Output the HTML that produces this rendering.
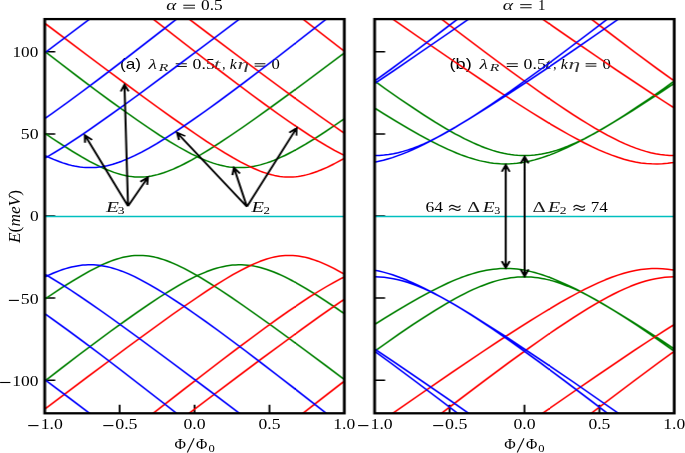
<!DOCTYPE html>
<html><head><meta charset="utf-8"><style>
html,body{margin:0;padding:0;background:#fff;width:685px;height:453px;overflow:hidden}
svg{display:block} .tx{will-change:transform}
text{fill:#000} .ser{font-family:"Liberation Serif",serif}
.sans{font-family:"Liberation Sans",sans-serif}
</style></head><body>
<svg width="685" height="453" viewBox="0 0 685 453">
<defs>
<clipPath id="clipL"><rect x="36.34" y="19.10" width="243.58" height="394.20"/></clipPath>
<clipPath id="clipR"><rect x="304.55" y="19.10" width="243.58" height="394.20"/></clipPath>
</defs>
<g class="tx"><text class="ser" transform="translate(12.50,56.90) scale(1.200,1)" font-size="14.3">100</text>
<text class="ser" transform="translate(20.87,139.40) scale(1.246,1)" font-size="14.3">50</text>
<text class="ser" transform="translate(29.89,221.20) scale(1.217,1)" font-size="14.3">0</text>
<text class="ser" transform="translate(20.87,303.90) scale(1.246,1)" font-size="14.3">50</text>
<text class="ser" transform="translate(12.37,386.10) scale(1.220,1)" font-size="14.3">100</text>
<text class="ser" transform="translate(40.65,429.30) scale(1.238,1)" font-size="14.3">1.0</text>
<text class="ser" transform="translate(115.17,429.30) scale(1.254,1)" font-size="14.3">0.5</text>
<text class="ser" transform="translate(183.48,429.30) scale(1.242,1)" font-size="14.3">0.0</text>
<text class="ser" transform="translate(258.49,429.30) scale(1.230,1)" font-size="14.3">0.5</text>
<text class="ser" transform="translate(333.37,429.30) scale(1.225,1)" font-size="14.3">1.0</text>
<text class="ser" transform="translate(174.45,448.60) scale(1.095,1)" font-size="14.3">Φ</text>
<text class="ser" transform="translate(196.06,448.60) scale(1.084,1)" font-size="14.3">Φ</text>
<text class="ser" transform="translate(208.39,451.50) scale(1.224,1)" font-size="10.3">0</text>
<text class="ser" transform="translate(370.55,429.30) scale(1.238,1)" font-size="14.3">1.0</text>
<text class="ser" transform="translate(445.07,429.30) scale(1.254,1)" font-size="14.3">0.5</text>
<text class="ser" transform="translate(513.38,429.30) scale(1.242,1)" font-size="14.3">0.0</text>
<text class="ser" transform="translate(588.39,429.30) scale(1.230,1)" font-size="14.3">0.5</text>
<text class="ser" transform="translate(663.27,429.30) scale(1.225,1)" font-size="14.3">1.0</text>
<text class="ser" transform="translate(504.35,448.60) scale(1.095,1)" font-size="14.3">Φ</text>
<text class="ser" transform="translate(525.96,448.60) scale(1.084,1)" font-size="14.3">Φ</text>
<text class="ser" transform="translate(538.29,451.50) scale(1.224,1)" font-size="10.3">0</text>
<text class="ser" transform="translate(166.23,10.20) scale(1.338,1)" font-size="14.3" font-style="italic" style="fill:#0b0b0b">α</text>
<text class="ser" transform="translate(201.09,10.20) scale(1.212,1)" font-size="14.3">0.5</text>
<text class="ser" transform="translate(502.71,10.20) scale(1.379,1)" font-size="14.3" font-style="italic" style="fill:#121212">α</text>
<text class="ser" transform="translate(537.90,10.00) scale(1.040,1)" font-size="14.3">1</text>
<text class="sans" transform="translate(119.97,68.60) scale(1.233,1)" font-size="14.0">(a)</text>
<text class="ser" transform="translate(148.54,68.60) scale(1.367,1)" font-size="14.3" font-style="italic" style="fill:#101010">λ</text>
<text class="ser" transform="translate(158.80,70.60) scale(1.431,1)" font-size="11.0" font-style="italic" style="fill:#1b1b1b">R</text>
<text class="ser" transform="translate(192.58,68.60) scale(1.242,1)" font-size="14.3">0.5</text>
<text class="ser" transform="translate(213.64,68.60) scale(1.686,1)" font-size="14.3" font-style="italic" style="fill:#3d3d3d">t</text>
<text class="ser" transform="translate(222.36,68.60) scale(0.889,1)" font-size="14.3">,</text>
<text class="ser" transform="translate(229.84,68.60) scale(1.117,1)" font-size="14.3" font-style="italic">k</text>
<text class="ser" transform="translate(237.48,68.60) scale(1.650,1)" font-size="14.3" font-style="italic" style="fill:#393939">η</text>
<text class="ser" transform="translate(271.62,68.60) scale(1.167,1)" font-size="14.3">0</text>
<text class="sans" transform="translate(449.50,68.60) scale(1.298,1)" font-size="14.0">(b)</text>
<text class="ser" transform="translate(479.54,68.60) scale(1.367,1)" font-size="14.3" font-style="italic" style="fill:#101010">λ</text>
<text class="ser" transform="translate(489.80,70.60) scale(1.431,1)" font-size="11.0" font-style="italic" style="fill:#1b1b1b">R</text>
<text class="ser" transform="translate(523.58,68.60) scale(1.242,1)" font-size="14.3">0.5</text>
<text class="ser" transform="translate(544.64,68.60) scale(1.686,1)" font-size="14.3" font-style="italic" style="fill:#3d3d3d">t</text>
<text class="ser" transform="translate(553.36,68.60) scale(0.889,1)" font-size="14.3">,</text>
<text class="ser" transform="translate(560.84,68.60) scale(1.117,1)" font-size="14.3" font-style="italic">k</text>
<text class="ser" transform="translate(568.47,68.60) scale(1.650,1)" font-size="14.3" font-style="italic" style="fill:#393939">η</text>
<text class="ser" transform="translate(602.62,68.60) scale(1.167,1)" font-size="14.3">0</text>
<text class="ser" transform="translate(106.05,211.80) scale(1.384,1)" font-size="15.3" font-style="italic" style="fill:#131313">E</text>
<text class="ser" transform="translate(117.64,213.90) scale(1.318,1)" font-size="10.3">3</text>
<text class="ser" transform="translate(251.43,211.90) scale(1.330,1)" font-size="15.3" font-style="italic" style="fill:#0a0a0a">E</text>
<text class="ser" transform="translate(263.38,213.90) scale(1.250,1)" font-size="10.3">2</text>
<text class="ser" transform="translate(425.49,212.30) scale(1.230,1)" font-size="14.3">64</text>
<text class="ser" transform="translate(467.20,211.90) scale(1.394,1)" font-size="14.3" style="fill:#151515">Δ</text>
<text class="ser" transform="translate(482.64,211.90) scale(1.360,1)" font-size="14.3" font-style="italic" style="fill:#0f0f0f">E</text>
<text class="ser" transform="translate(494.21,213.90) scale(1.176,1)" font-size="10.3">3</text>
<text class="ser" transform="translate(532.48,211.90) scale(1.442,1)" font-size="14.3" style="fill:#1d1d1d">Δ</text>
<text class="ser" transform="translate(548.05,211.90) scale(1.394,1)" font-size="14.3" font-style="italic" style="fill:#151515">E</text>
<text class="ser" transform="translate(559.84,213.90) scale(1.325,1)" font-size="10.3" style="fill:#090909">2</text>
<text class="ser" transform="translate(590.71,212.30) scale(1.192,1)" font-size="14.3">74</text>
<rect x="8.90" y="299.85" width="10.00" height="1.1" fill="#000"/>
<rect x="0.10" y="381.95" width="10.30" height="1.1" fill="#000"/>
<rect x="28.20" y="425.05" width="10.30" height="1.1" fill="#000"/>
<rect x="103.30" y="425.05" width="10.10" height="1.1" fill="#000"/>
<rect x="358.10" y="425.05" width="10.30" height="1.1" fill="#000"/>
<rect x="433.20" y="425.05" width="10.10" height="1.1" fill="#000"/>
<rect x="183.30" y="4.75" width="11.70" height="1.0" fill="#111"/>
<rect x="183.30" y="7.55" width="11.70" height="1.0" fill="#111"/>
<rect x="520.20" y="4.15" width="11.40" height="1.0" fill="#111"/>
<rect x="520.20" y="7.25" width="11.40" height="1.0" fill="#111"/>
<rect x="175.70" y="63.25" width="11.10" height="1.0" fill="#111"/>
<rect x="175.70" y="65.95" width="11.10" height="1.0" fill="#111"/>
<rect x="254.60" y="63.25" width="10.80" height="1.0" fill="#111"/>
<rect x="254.60" y="65.65" width="10.80" height="1.0" fill="#111"/>
<rect x="506.70" y="63.25" width="11.10" height="1.0" fill="#111"/>
<rect x="506.70" y="65.95" width="11.10" height="1.0" fill="#111"/>
<rect x="585.60" y="63.25" width="10.80" height="1.0" fill="#111"/>
<rect x="585.60" y="65.65" width="10.80" height="1.0" fill="#111"/>
<path d="M194.10 438.3L187.30 452.6" stroke="#111" stroke-width="1.15" fill="none"/>
<path d="M524.00 438.3L517.20 452.6" stroke="#111" stroke-width="1.15" fill="none"/>
<path d="M449.20 207.20C450.20 205.00 452.60 205.00 454.80 206.30S459.40 207.60 460.40 205.40" stroke="#111" stroke-width="1.2" fill="none"/>
<path d="M449.20 210.50C450.20 208.30 452.60 208.30 454.80 209.60S459.40 210.90 460.40 208.70" stroke="#111" stroke-width="1.2" fill="none"/>
<path d="M573.60 207.20C574.60 205.00 577.00 205.00 579.20 206.30S583.80 207.60 584.80 205.40" stroke="#111" stroke-width="1.2" fill="none"/>
<path d="M573.60 210.50C574.60 208.30 577.00 208.30 579.20 209.60S583.80 210.90 584.80 208.70" stroke="#111" stroke-width="1.2" fill="none"/>
<text class="ser" transform="translate(20.2,243.0) rotate(-90) scale(1,1.23)" font-size="14.3" textLength="53" lengthAdjust="spacingAndGlyphs"><tspan font-style="italic">E</tspan>(<tspan font-style="italic">meV</tspan>)</text></g>
<g transform="scale(1.23,1)">
<path d="M36.34 380.25h8.54M36.34 298.12h8.54M36.34 216.00h8.54M36.34 133.88h8.54M36.34 51.75h8.54M97.24 413.30v-8.6M158.13 413.30v-8.6M219.02 413.30v-8.6" stroke="#000" stroke-width="1.5" fill="none"/>
<g clip-path="url(#clipL)" fill="none" stroke-width="1.5" stroke-linejoin="round">
<path stroke="#008000" d="M32.69 47.8 49.25 63.5 64.23 77.6 77.87 90.2 90.17 101.4 101.38 111.3 111.73 120.3 121.23 128.3 129.88 135.4 137.91 141.6 145.34 147.0 152.16 151.7 155.45 153.8 158.62 155.7 161.66 157.5 164.71 159.1 167.63 160.6 170.43 161.9 173.23 163.1 175.91 164.1 178.59 165.0 181.15 165.7 183.71 166.4 186.26 166.9 188.82 167.3 191.38 167.5 193.94 167.6 196.37 167.6 198.81 167.5 201.37 167.2 203.92 166.8 206.48 166.3 209.04 165.6 211.60 164.9 214.27 163.9 216.95 162.9 219.76 161.7 222.56 160.4 225.48 158.9 228.52 157.2 231.57 155.5 234.74 153.5 238.02 151.4 241.43 149.1 248.50 144.1 256.17 138.3 264.57 131.6 273.71 124.0 283.57 115.6 M32.69 384.6 49.25 368.9 64.23 354.8 77.87 342.2 90.17 331.0 101.38 321.1 111.73 312.1 121.23 304.1 129.88 297.0 137.91 290.8 145.34 285.4 152.16 280.7 155.45 278.6 158.62 276.7 161.66 274.9 164.71 273.3 167.63 271.8 170.43 270.5 173.23 269.3 175.91 268.3 178.59 267.4 181.15 266.7 183.71 266.0 186.26 265.5 188.82 265.1 191.38 264.9 193.94 264.8 196.37 264.8 198.81 264.9 201.37 265.2 203.92 265.6 206.48 266.1 209.04 266.8 211.60 267.5 214.27 268.5 216.95 269.5 219.76 270.7 222.56 272.0 225.48 273.5 228.52 275.2 231.57 276.9 234.74 278.9 238.02 281.0 241.43 283.3 248.50 288.3 256.17 294.1 264.57 300.8 273.71 308.4 283.57 316.8 M32.69 130.1 42.31 138.2 50.96 145.2 58.87 151.3 66.06 156.6 72.76 161.3 78.85 165.1 81.77 166.9 84.57 168.5 87.37 169.9 90.05 171.2 92.61 172.4 95.17 173.4 97.60 174.3 100.04 175.1 102.47 175.7 104.79 176.2 107.10 176.6 109.41 176.9 111.73 177.0 113.92 177.0 116.23 176.9 118.55 176.7 120.86 176.4 123.18 175.9 125.61 175.3 128.05 174.6 130.48 173.7 133.04 172.8 135.60 171.6 138.16 170.4 140.84 169.1 143.64 167.5 146.56 165.8 149.60 164.0 155.94 159.8 162.76 155.0 170.31 149.3 178.47 142.9 187.48 135.5 197.35 127.2 208.31 117.7 220.36 107.1 233.76 95.1 248.62 81.7 265.18 66.5 283.57 49.6 M32.69 302.3 42.31 294.2 50.96 287.2 58.87 281.1 66.06 275.8 72.76 271.1 78.85 267.3 81.77 265.5 84.57 263.9 87.37 262.5 90.05 261.2 92.61 260.0 95.17 259.0 97.60 258.1 100.04 257.3 102.47 256.7 104.79 256.2 107.10 255.8 109.41 255.5 111.73 255.4 113.92 255.4 116.23 255.5 118.55 255.7 120.86 256.0 123.18 256.5 125.61 257.1 128.05 257.8 130.48 258.7 133.04 259.6 135.60 260.8 138.16 262.0 140.84 263.3 143.64 264.9 146.56 266.6 149.60 268.4 155.94 272.6 162.76 277.4 170.31 283.1 178.47 289.5 187.48 296.9 197.35 305.2 208.31 314.7 220.36 325.3 233.76 337.3 248.62 350.7 265.18 365.9 283.57 382.8"/>
<path stroke="#ff0000" d="M114.29 9.3 149.97 43.5 165.44 58.2 179.69 71.6 192.72 83.8 204.65 94.7 215.61 104.6 225.60 113.5 234.86 121.5 243.50 128.7 251.42 135.2 258.73 140.9 265.55 145.9 271.88 150.3 277.85 154.2 283.57 157.5 M114.29 423.1 149.97 388.9 165.44 374.2 179.69 360.8 192.72 348.6 204.65 337.7 215.61 327.8 225.60 318.9 234.86 310.9 243.50 303.7 251.42 297.2 258.73 291.5 265.55 286.5 271.88 282.1 277.85 278.2 283.57 274.9 M236.07 9.3 261.29 33.5 283.57 54.8 M236.07 423.1 261.29 398.9 283.57 377.6 M32.69 19.8 71.17 55.5 87.74 70.7 102.72 84.4 116.36 96.7 128.66 107.7 139.86 117.6 150.09 126.4 159.35 134.2 167.87 141.3 175.67 147.5 182.73 152.9 189.31 157.7 195.40 161.8 201.12 165.4 206.48 168.5 211.47 171.1 213.91 172.2 216.22 173.1 218.54 174.0 220.85 174.8 223.04 175.4 225.24 175.9 227.43 176.4 229.62 176.7 231.81 176.9 233.88 177.0 235.95 177.0 238.15 176.9 240.22 176.7 242.41 176.4 244.60 176.0 246.79 175.5 248.98 174.9 251.30 174.1 253.61 173.2 255.93 172.3 258.36 171.2 260.80 170.0 265.91 167.3 271.39 164.0 277.24 160.1 283.57 155.7 M32.69 412.6 71.17 376.9 87.74 361.7 102.72 348.0 116.36 335.7 128.66 324.7 139.86 314.8 150.09 306.0 159.35 298.2 167.87 291.1 175.67 284.9 182.73 279.5 189.31 274.7 195.40 270.6 201.12 267.0 206.48 263.9 211.47 261.3 213.91 260.2 216.22 259.3 218.54 258.4 220.85 257.6 223.04 257.0 225.24 256.5 227.43 256.0 229.62 255.7 231.81 255.5 233.88 255.4 235.95 255.4 238.15 255.5 240.22 255.7 242.41 256.0 244.60 256.4 246.79 256.9 248.98 257.5 251.30 258.3 253.61 259.2 255.93 260.1 258.36 261.2 260.80 262.4 265.91 265.1 271.39 268.4 277.24 272.3 283.57 276.7 M143.27 9.3 169.09 33.4 191.87 54.5 211.96 73.0 229.86 89.2 245.70 103.5 259.82 116.0 272.37 126.8 283.57 136.3 M143.27 423.1 169.09 399.0 191.87 377.9 211.96 359.4 229.86 343.2 245.70 328.9 259.82 316.4 272.37 305.6 283.57 296.1"/>
<path stroke="#0000ff" d="M32.69 121.9 43.16 112.8 54.73 102.5 67.40 91.0 81.40 78.1 96.87 63.6 113.92 47.4 132.80 29.4 153.62 9.3 M32.69 310.5 43.16 319.6 54.73 329.9 67.40 341.4 81.40 354.3 96.87 368.8 113.92 385.0 132.80 403.0 153.62 423.1 M32.69 153.2 38.29 156.6 43.53 159.4 48.52 161.8 50.96 162.9 53.39 163.8 55.83 164.7 58.14 165.4 60.46 166.0 62.65 166.5 64.96 167.0 67.15 167.3 69.35 167.5 71.54 167.6 73.73 167.6 75.92 167.6 78.11 167.4 80.43 167.1 82.62 166.7 84.94 166.2 87.13 165.7 89.44 165.0 91.76 164.2 94.19 163.3 96.63 162.3 99.06 161.2 104.06 158.7 109.41 155.7 115.14 152.1 121.11 148.1 127.44 143.6 134.26 138.4 141.57 132.6 149.36 126.2 157.89 118.9 167.02 111.0 177.01 102.1 187.72 92.4 199.42 81.6 212.08 69.8 225.97 56.7 241.07 42.3 275.41 9.3 M32.69 279.2 38.29 275.8 43.53 273.0 48.52 270.6 50.96 269.5 53.39 268.6 55.83 267.7 58.14 267.0 60.46 266.4 62.65 265.9 64.96 265.4 67.15 265.1 69.35 264.9 71.54 264.8 73.73 264.8 75.92 264.8 78.11 265.0 80.43 265.3 82.62 265.7 84.94 266.2 87.13 266.7 89.44 267.4 91.76 268.2 94.19 269.1 96.63 270.1 99.06 271.2 104.06 273.7 109.41 276.7 115.14 280.3 121.11 284.3 127.44 288.8 134.26 294.0 141.57 299.8 149.36 306.2 157.89 313.5 167.02 321.4 177.01 330.3 187.72 340.0 199.42 350.8 212.08 362.6 225.97 375.7 241.07 390.1 275.41 423.1 M32.69 56.3 56.44 34.3 83.35 9.3 M32.69 376.1 56.44 398.1 83.35 423.1 M32.69 160.8 38.17 157.0 44.14 152.6 50.47 147.8 57.29 142.4 64.72 136.3 72.76 129.6 81.40 122.1 90.90 113.9 101.25 104.7 112.46 94.7 138.03 71.4 168.60 43.3 205.14 9.3 M32.69 271.6 38.17 275.4 44.14 279.8 50.47 284.6 57.29 290.0 64.72 296.1 72.76 302.8 81.40 310.3 90.90 318.5 101.25 327.7 112.46 337.7 138.03 361.0 168.60 389.1 205.14 423.1"/>
<path d="M36.34 216.40H279.92" stroke="#00bfbf" stroke-width="1.5"/>
</g>
<rect x="36.34" y="19.10" width="243.58" height="394.20" fill="none" stroke="#000" stroke-width="2.3"/>
<path d="M304.55 380.25h8.54M304.55 298.12h8.54M304.55 216.00h8.54M304.55 133.88h8.54M304.55 51.75h8.54M365.45 413.30v-8.6M426.34 413.30v-8.6M487.24 413.30v-8.6" stroke="#000" stroke-width="1.5" fill="none"/>
<g clip-path="url(#clipR)" fill="none" stroke-width="1.5" stroke-linejoin="round">
<path stroke="#008000" d="M300.90 77.9 313.20 88.7 324.53 98.5 335.00 107.2 344.74 115.1 353.76 122.1 362.16 128.3 369.95 133.8 373.73 136.2 377.38 138.6 380.91 140.7 384.32 142.7 387.73 144.5 391.02 146.2 394.19 147.7 397.36 149.1 400.40 150.4 403.45 151.5 406.49 152.5 409.41 153.3 412.34 154.0 415.14 154.6 417.94 155.0 420.74 155.3 423.54 155.5 426.34 155.6 429.14 155.5 431.94 155.3 434.74 155.0 437.55 154.6 440.35 154.0 443.27 153.3 446.19 152.5 449.24 151.5 452.28 150.4 455.33 149.1 458.49 147.7 461.66 146.2 464.95 144.5 468.36 142.7 471.77 140.7 475.30 138.6 478.95 136.2 482.73 133.8 490.52 128.3 498.93 122.1 507.94 115.1 517.68 107.2 528.16 98.5 539.48 88.7 551.78 77.9 M300.90 354.5 313.20 343.7 324.53 333.9 335.00 325.2 344.74 317.3 353.76 310.3 362.16 304.1 369.95 298.6 373.73 296.2 377.38 293.8 380.91 291.7 384.32 289.7 387.73 287.9 391.02 286.2 394.19 284.7 397.36 283.3 400.40 282.0 403.45 280.9 406.49 279.9 409.41 279.1 412.34 278.4 415.14 277.8 417.94 277.4 420.74 277.1 423.54 276.9 426.34 276.8 429.14 276.9 431.94 277.1 434.74 277.4 437.55 277.8 440.35 278.4 443.27 279.1 446.19 279.9 449.24 280.9 452.28 282.0 455.33 283.3 458.49 284.7 461.66 286.2 464.95 287.9 468.36 289.7 471.77 291.7 475.30 293.8 478.95 296.2 482.73 298.6 490.52 304.1 498.93 310.3 507.94 317.3 517.68 325.2 528.16 333.9 539.48 343.7 551.78 354.5 M300.90 105.1 312.10 113.8 322.46 121.6 332.08 128.6 340.97 134.8 349.25 140.3 356.92 145.1 364.23 149.4 367.64 151.2 371.05 153.0 374.34 154.6 377.50 156.0 380.67 157.4 383.72 158.5 386.76 159.6 389.68 160.6 392.61 161.4 395.41 162.1 398.21 162.7 401.01 163.2 403.81 163.5 406.61 163.8 409.41 163.9 412.09 163.9 414.77 163.8 417.57 163.6 420.37 163.3 423.17 162.8 425.98 162.3 428.78 161.6 431.70 160.8 434.62 159.9 437.67 158.8 440.71 157.6 443.88 156.3 447.05 154.9 450.33 153.3 453.62 151.6 460.56 147.8 467.99 143.4 475.91 138.3 484.31 132.6 493.45 126.1 503.31 118.8 513.91 110.8 525.48 101.7 538.02 91.7 551.78 80.4 M300.90 327.3 312.10 318.6 322.46 310.8 332.08 303.8 340.97 297.6 349.25 292.1 356.92 287.3 364.23 283.0 367.64 281.2 371.05 279.4 374.34 277.8 377.50 276.4 380.67 275.0 383.72 273.9 386.76 272.8 389.68 271.8 392.61 271.0 395.41 270.3 398.21 269.7 401.01 269.2 403.81 268.9 406.61 268.6 409.41 268.5 412.09 268.5 414.77 268.6 417.57 268.8 420.37 269.1 423.17 269.6 425.98 270.1 428.78 270.8 431.70 271.6 434.62 272.5 437.67 273.6 440.71 274.8 443.88 276.1 447.05 277.5 450.33 279.1 453.62 280.8 460.56 284.6 467.99 289.0 475.91 294.1 484.31 299.8 493.45 306.3 503.31 313.6 513.91 321.6 525.48 330.7 538.02 340.7 551.78 352.0"/>
<path stroke="#ff0000" d="M348.52 9.3 372.63 32.0 394.19 52.0 413.31 69.5 430.48 84.8 438.40 91.7 445.83 98.1 452.89 104.0 459.71 109.6 466.17 114.8 472.26 119.6 478.10 124.0 483.58 128.1 488.94 131.8 494.06 135.3 498.93 138.4 503.68 141.3 508.18 143.8 512.57 146.1 516.83 148.1 520.97 149.9 524.99 151.4 529.01 152.7 532.91 153.7 536.68 154.5 540.46 155.1 544.23 155.5 548.01 155.6 551.78 155.5 M348.52 423.1 372.63 400.4 394.19 380.4 413.31 362.9 430.48 347.6 438.40 340.7 445.83 334.3 452.89 328.4 459.71 322.8 466.17 317.6 472.26 312.8 478.10 308.4 483.58 304.3 488.94 300.6 494.06 297.1 498.93 294.0 503.68 291.1 508.18 288.6 512.57 286.3 516.83 284.3 520.97 282.5 524.99 281.0 529.01 279.7 532.91 278.7 536.68 277.9 540.46 277.3 544.23 276.9 548.01 276.8 551.78 276.9 M470.31 9.3 494.30 31.9 515.61 51.7 534.73 69.1 551.78 84.3 M470.31 423.1 494.30 400.5 515.61 380.7 534.73 363.3 551.78 348.1 M307.84 9.3 339.87 36.7 367.76 60.3 392.00 80.4 402.84 89.3 413.07 97.5 422.57 105.0 431.58 112.0 439.98 118.4 447.90 124.3 455.33 129.7 462.27 134.5 468.85 138.9 475.18 143.0 481.15 146.6 486.75 149.8 492.11 152.6 497.34 155.1 502.34 157.3 507.21 159.2 511.84 160.7 516.47 161.9 520.97 162.9 525.36 163.5 529.74 163.8 534.12 163.9 538.51 163.7 542.89 163.2 547.28 162.4 551.78 161.3 M307.84 423.1 339.87 395.7 367.76 372.1 392.00 352.0 402.84 343.1 413.07 334.9 422.57 327.4 431.58 320.4 439.98 314.0 447.90 308.1 455.33 302.7 462.27 297.9 468.85 293.5 475.18 289.4 481.15 285.8 486.75 282.6 492.11 279.8 497.34 277.3 502.34 275.1 507.21 273.2 511.84 271.7 516.47 270.5 520.97 269.5 525.36 268.9 529.74 268.6 534.12 268.5 538.51 268.7 542.89 269.2 547.28 270.0 551.78 271.1 M429.63 9.3 449.85 26.6 468.36 42.4 485.41 56.8 501.00 69.8 515.37 81.7 528.52 92.4 540.58 102.0 551.78 110.8 M429.63 423.1 449.85 405.8 468.36 390.0 485.41 375.6 501.00 362.6 515.37 350.7 528.52 340.0 540.58 330.4 551.78 321.6"/>
<path stroke="#0000ff" d="M300.90 84.3 317.95 69.1 337.07 51.7 358.38 31.9 382.38 9.3 M300.90 348.1 317.95 363.3 337.07 380.7 358.38 400.5 382.38 423.1 M300.90 155.5 304.67 155.6 308.45 155.5 312.23 155.1 316.00 154.5 319.78 153.7 323.67 152.7 327.69 151.4 331.71 149.9 335.85 148.1 340.12 146.1 344.50 143.8 349.01 141.3 353.76 138.4 358.63 135.3 363.74 131.8 369.10 128.1 374.58 124.0 380.43 119.6 386.52 114.8 392.97 109.6 399.79 104.0 406.86 98.1 414.28 91.7 422.20 84.8 439.37 69.5 458.49 52.0 480.05 32.0 504.16 9.3 M300.90 276.9 304.67 276.8 308.45 276.9 312.23 277.3 316.00 277.9 319.78 278.7 323.67 279.7 327.69 281.0 331.71 282.5 335.85 284.3 340.12 286.3 344.50 288.6 349.01 291.1 353.76 294.0 358.63 297.1 363.74 300.6 369.10 304.3 374.58 308.4 380.43 312.8 386.52 317.6 392.97 322.8 399.79 328.4 406.86 334.3 414.28 340.7 422.20 347.6 439.37 362.9 458.49 380.4 480.05 400.4 504.16 423.1 M300.90 86.4 319.90 70.8 341.33 52.8 365.33 32.5 392.36 9.3 M300.90 346.0 319.90 361.6 341.33 379.6 365.33 399.9 392.36 423.1 M300.90 162.9 304.43 162.2 307.96 161.3 311.62 160.3 315.27 159.0 319.05 157.6 322.94 155.9 326.84 154.1 330.98 152.1 335.24 149.8 339.63 147.3 344.26 144.6 349.01 141.6 354.00 138.4 359.11 134.9 364.47 131.2 370.20 127.2 382.38 118.2 395.77 107.9 410.63 96.2 427.07 82.8 445.34 67.8 465.80 50.6 488.58 31.2 514.15 9.3 M300.90 269.5 304.43 270.2 307.96 271.1 311.62 272.1 315.27 273.4 319.05 274.8 322.94 276.5 326.84 278.3 330.98 280.3 335.24 282.6 339.63 285.1 344.26 287.8 349.01 290.8 354.00 294.0 359.11 297.5 364.47 301.2 370.20 305.2 382.38 314.2 395.77 324.5 410.63 336.2 427.07 349.6 445.34 364.6 465.80 381.8 488.58 401.2 514.15 423.1"/>
<path d="M304.55 216.40H548.13" stroke="#00bfbf" stroke-width="1.5"/>
</g>
<rect x="304.55" y="19.10" width="243.58" height="394.20" fill="none" stroke="#000" stroke-width="2.3"/>
<path d="M104.07 206.10L68.96 135.15M69.13 142.70L68.96 135.15L74.85 139.87M104.07 206.10L101.16 84.60M98.14 91.52L101.16 84.60L104.52 91.36M104.07 206.10L120.19 177.32M114.06 181.73L120.19 177.32L119.63 184.85M200.73 206.70L143.89 132.63M145.53 140.00L143.89 132.63L150.59 136.11M200.73 206.70L190.18 167.75M188.89 175.19L190.18 167.75L195.05 173.52M200.73 206.70L241.11 128.10M235.15 132.72L241.11 128.10L240.82 135.64M411.14 164.90L411.14 267.90M414.33 261.06L411.14 267.90L407.95 261.06M407.95 171.74L411.14 164.90L414.33 171.74M426.50 156.60L426.50 276.20M429.69 269.36L426.50 276.20L423.31 269.36M423.31 163.44L426.50 156.60L429.69 163.44" stroke="#000" stroke-width="1.65" fill="none" stroke-linejoin="miter" stroke-linecap="butt"/>
</g>
</svg>
</body></html>
